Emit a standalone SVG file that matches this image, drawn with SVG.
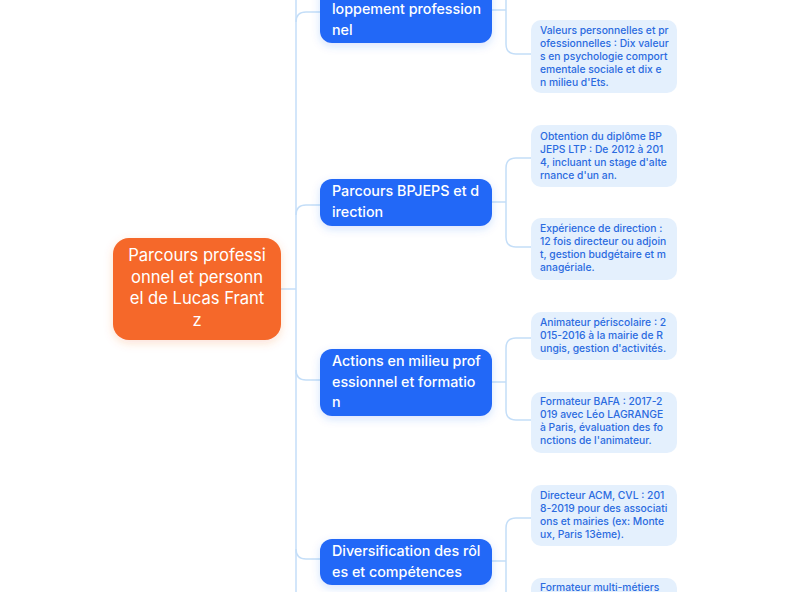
<svg xmlns="http://www.w3.org/2000/svg" width="790" height="592" viewBox="0 0 790 592">
<defs>
<filter id="sh" x="-20%" y="-30%" width="140%" height="170%">
<feDropShadow dx="0" dy="3" stdDeviation="4" flood-color="#2468F2" flood-opacity="0.18"/>
</filter>
<filter id="shr" x="-20%" y="-30%" width="140%" height="170%">
<feDropShadow dx="0" dy="3" stdDeviation="5" flood-color="#F26B2A" flood-opacity="0.2"/>
</filter>
<style>
.c{fill:none;stroke:#C4DEF8;stroke-width:1.5}
.b rect{fill:#2468F7}
.b text{fill:#fff;font-family:Inter,"Noto Sans",sans-serif;font-size:14.3px;font-weight:500}
.l rect{fill:#E4F0FD}
.l text{fill:#2B6BE0;font-family:Inter,"Noto Sans",sans-serif;font-size:10.3px;font-weight:500}
.r text{fill:#fff;font-family:Inter,"Noto Sans",sans-serif;font-size:16.6px;text-anchor:middle}
</style>
</defs>
<rect width="790" height="592" fill="#fff"/>
<g id="connectors">
<path class="c" d="M281 289 H296"/>
<path class="c" d="M296 -30 V600"/>
<path class="c" d="M296 22 Q296 12 306 12 H320"/>
<path class="c" d="M296 215 Q296 205 306 205 H320"/>
<path class="c" d="M296 370 Q296 380 306 380 H320"/>
<path class="c" d="M296 549 Q296 559 306 559 H320"/>
<path class="c" d="M492 10 H506 M506 10 V-60 M506 10 V44 Q506 54 516 54 H531"/>
<path class="c" d="M492 202 H506 M506 202 V168 Q506 158 516 158 H531 M506 202 V237 Q506 247 516 247 H531"/>
<path class="c" d="M492 382 H506 M506 382 V348 Q506 338 516 338 H531 M506 382 V410 Q506 420 516 420 H531"/>
<path class="c" d="M492 561 H506 M506 561 V528 Q506 518 516 518 H531 M506 561 V600"/>
</g>
<g id="root" class="r">
<rect x="113" y="238" width="168" height="102" rx="16" fill="#F5682B" filter="url(#shr)"/>
<text x="197" y="261">Parcours professi</text>
<text x="197" y="282.5">onnel et personn</text>
<text x="197" y="304">el de Lucas Frant</text>
<text x="197" y="325.5">z</text>
</g>
<g id="n1" class="b">
<rect x="320" y="-27" width="172" height="70" rx="12" filter="url(#sh)"/>
<text x="332" y="14">loppement profession</text>
<text x="332" y="35">nel</text>
</g>
<g id="n1b" class="l">
<rect x="531" y="20" width="146" height="73" rx="10"/>
<text x="540" y="34">Valeurs personnelles et pr</text>
<text x="540" y="47">ofessionnelles : Dix valeur</text>
<text x="540" y="60">s en psychologie comport</text>
<text x="540" y="73">ementale sociale et dix e</text>
<text x="540" y="86">n milieu d'Ets.</text>
</g>
<g id="n2" class="b">
<rect x="320" y="179" width="172" height="47" rx="12" filter="url(#sh)"/>
<text x="332" y="196">Parcours BPJEPS et d</text>
<text x="332" y="217">irection</text>
</g>
<g id="n2a" class="l">
<rect x="531" y="125" width="146" height="62" rx="10"/>
<text x="540" y="140">Obtention du diplôme BP</text>
<text x="540" y="153">JEPS LTP : De 2012 à 201</text>
<text x="540" y="166">4, incluant un stage d'alte</text>
<text x="540" y="179">rnance d'un an.</text>
</g>
<g id="n2b" class="l">
<rect x="531" y="218" width="146" height="62" rx="10"/>
<text x="540" y="232">Expérience de direction :</text>
<text x="540" y="245">12 fois directeur ou adjoin</text>
<text x="540" y="258">t, gestion budgétaire et m</text>
<text x="540" y="271">anagériale.</text>
</g>
<g id="n3" class="b">
<rect x="320" y="349" width="172" height="67" rx="12" filter="url(#sh)"/>
<text x="332" y="366">Actions en milieu prof</text>
<text x="332" y="386.5">essionnel et formatio</text>
<text x="332" y="407">n</text>
</g>
<g id="n3a" class="l">
<rect x="531" y="312" width="146" height="48" rx="10"/>
<text x="540" y="326">Animateur périscolaire : 2</text>
<text x="540" y="339">015-2016 à la mairie de R</text>
<text x="540" y="352">ungis, gestion d'activités.</text>
</g>
<g id="n3b" class="l">
<rect x="531" y="392" width="146" height="61" rx="10"/>
<text x="540" y="405">Formateur BAFA : 2017-2</text>
<text x="540" y="418">019 avec Léo LAGRANGE</text>
<text x="540" y="431">à Paris, évaluation des fo</text>
<text x="540" y="444">nctions de l'animateur.</text>
</g>
<g id="n4" class="b">
<rect x="320" y="539" width="172" height="46" rx="12" filter="url(#sh)"/>
<text x="332" y="556">Diversification des rôl</text>
<text x="332" y="577">es et compétences</text>
</g>
<g id="n4a" class="l">
<rect x="531" y="485" width="146" height="61" rx="10"/>
<text x="540" y="499">Directeur ACM, CVL : 201</text>
<text x="540" y="512">8-2019 pour des associati</text>
<text x="540" y="525">ons et mairies (ex: Monte</text>
<text x="540" y="538">ux, Paris 13ème).</text>
</g>
<g id="n4b" class="l">
<rect x="531" y="578" width="146" height="62" rx="10"/>
<text x="540" y="591">Formateur multi-métiers</text>
</g>
</svg>
